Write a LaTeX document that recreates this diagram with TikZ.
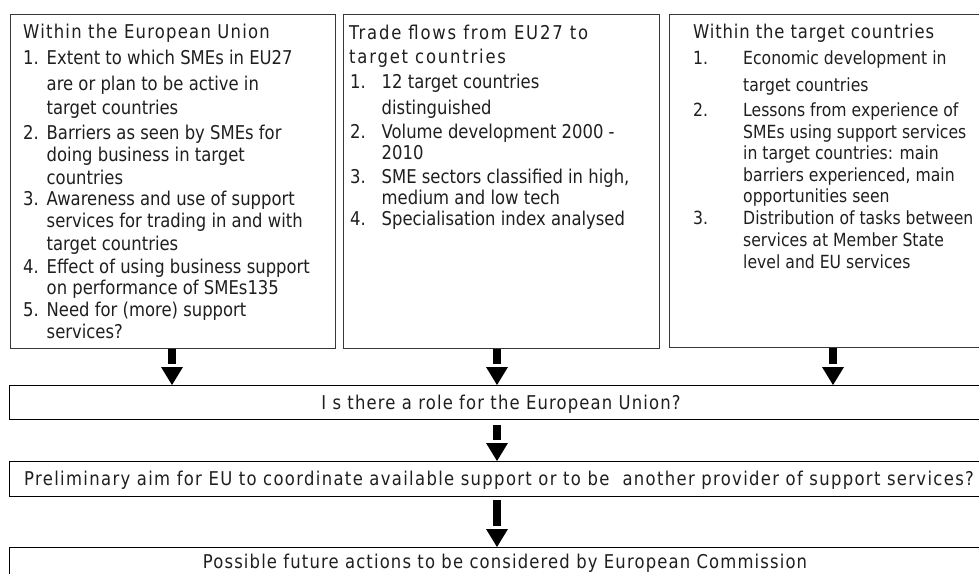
\documentclass[tikz,border=0pt]{standalone}
\usepackage{fontspec}
\setmainfont[FakeStretch=0.865]{DejaVu Sans}
\usetikzlibrary{calc}
\tikzset{
  x=1pt, y=-1pt,
  box/.style={draw=black!78, line width=1.2pt, inner sep=0pt, anchor=north west},
  lbox/.style={draw=black, line width=1.4pt, inner sep=0pt, anchor=north west},
  txt/.style={anchor=base west, inner sep=0pt, text=black!88, font=\fontsize{19}{22}\selectfont},
  txtc/.style={anchor=base west, inner sep=0pt, text=black!88, font=\fontsize{18.1}{22}\selectfont},
  ttl/.style={anchor=base west, inner sep=0pt, text=black!88, font=\fontsize{19}{22}\selectfont\addfontfeatures{LetterSpace=6.5}},
  ttlb/.style={anchor=base west, inner sep=0pt, text=black!88, font=\fontsize{19}{22}\selectfont\addfontfeatures{LetterSpace=9.5}},
  ttlc/.style={anchor=base west, inner sep=0pt, text=black!88, font=\fontsize{19}{22}\selectfont\addfontfeatures{LetterSpace=4.5}},
  ctr/.style={anchor=base, inner sep=0pt, text=black!88, font=\fontsize{19}{22}\selectfont\addfontfeatures{LetterSpace=6}},
  ctrw/.style={anchor=base, inner sep=0pt, text=black!88, font=\fontsize{19}{22}\selectfont\addfontfeatures{LetterSpace=7}},
}
\newcommand\blkarrow[2]{%
  \fill[black] ($(#1)+(-4,0)$) rectangle ($(#2)+(4,-21)$);
  \fill[white] ($(#2)+(-2.5,-21)$) rectangle ($(#2)+(2.5,-18)$);
  \fill[black] ($(#2)+(-11,-18)$) -- ($(#2)+(11,-18)$) -- (#2) -- cycle;
}
\begin{document}
\begin{tikzpicture}
\clip (0,0) rectangle (979,573);
\fill[white] (0,0) rectangle (979,573);

% top boxes
\node[box, minimum width=325, minimum height=334] (b1) at (10,14) {};
\node[box, minimum width=316, minimum height=334] (b2) at (343,14) {};
\node[box, minimum width=330, minimum height=333] (b3) at (669,14) {};

% bottom boxes
\node[lbox, minimum width=983, minimum height=34] (role) at (9,385) {};
\node[lbox, minimum width=983, minimum height=35] (aim) at (9,461) {};
\node[lbox, minimum width=983, minimum height=40] (fut) at (9,547) {};

% box 1 text
\node[ttl] (t1) at (23,38) {Within the European Union};
\foreach \y/\n/\t [count=\i] in {
  64/1./{Extent to which SMEs in EU27},
  90//{are or plan to be active in},
  114//{target countries},
  139/2./{Barriers as seen by SMEs for},
  161//{doing business in target},
  184//{countries},
  205/3./{Awareness and use of support},
  227//{services for trading in and with},
  250//{target countries},
  273/4./{Effect of using business support},
  294//{on performance of SMEs135},
  316/5./{Need for (more) support},
  338//{services?}}{
  \node[txt] (n1\i) at (23,\y) {\n};
  \node[txt] (l1\i) at (46.5,\y) {\t};
}

% box 2 text
\node[ttlb] (t2a) at (349,39) {Trade flows from EU27 to};
\node[ttlb] (t2b) at (349,63) {target countries};
\foreach \y/\n/\t [count=\i] in {
  88/1./{12 target countries},
  114//{distinguished},
  138/2./{Volume development 2000 -},
  159//{2010},
  183/3./{SME sectors classified in high,},
  204//{medium and low tech},
  225/4./{Specialisation index analysed}}{
  \node[txt] (n2\i) at (350,\y) {\n};
  \node[txt] (l2\i) at (381.5,\y) {\t};
}

% box 3 text
\node[ttlc] (t3) at (693,38) {Within the target countries};
\foreach \y/\n/\t [count=\i] in {
  64/1./{Economic development in},
  91//{target countries},
  116/2./{Lessons from experience of},
  138//{SMEs using support services},
  159//{in target countries: main},
  181//{barriers experienced, main},
  202//{opportunities seen},
  224/3./{Distribution of tasks between},
  246//{services at Member State},
  268//{level and EU services}}{
  \node[txtc] (n3\i) at (693,\y) {\n};
  \node[txtc] (l3\i) at (743,\y) {\t};
}

% bottom texts
\node[ctr] (rt) at (501,409) {I s there a role for the European Union?};
\node[ctrw] (at) at (499,485) {Preliminary aim for EU to coordinate available support or to be \ another provider of support services?};
\node[ctr] (ft) at (505,568) {Possible future actions to be considered by European Commission};

% arrows
\coordinate (xa) at (172,0);
\coordinate (xb) at (497,0);
\coordinate (xc) at (833,0);
\blkarrow{xa |- b1.south}{xa |- role.north}
\blkarrow{xb |- b2.south}{xb |- role.north}
\blkarrow{xc |- b3.south}{xc |- role.north}
\coordinate (s1) at ($(xb |- role.south)+(0,5)$);
\blkarrow{s1}{xb |- aim.north}
\coordinate (s2) at ($(xb |- aim.south)+(0,3)$);
\blkarrow{s2}{xb |- fut.north}
\end{tikzpicture}
\end{document}
